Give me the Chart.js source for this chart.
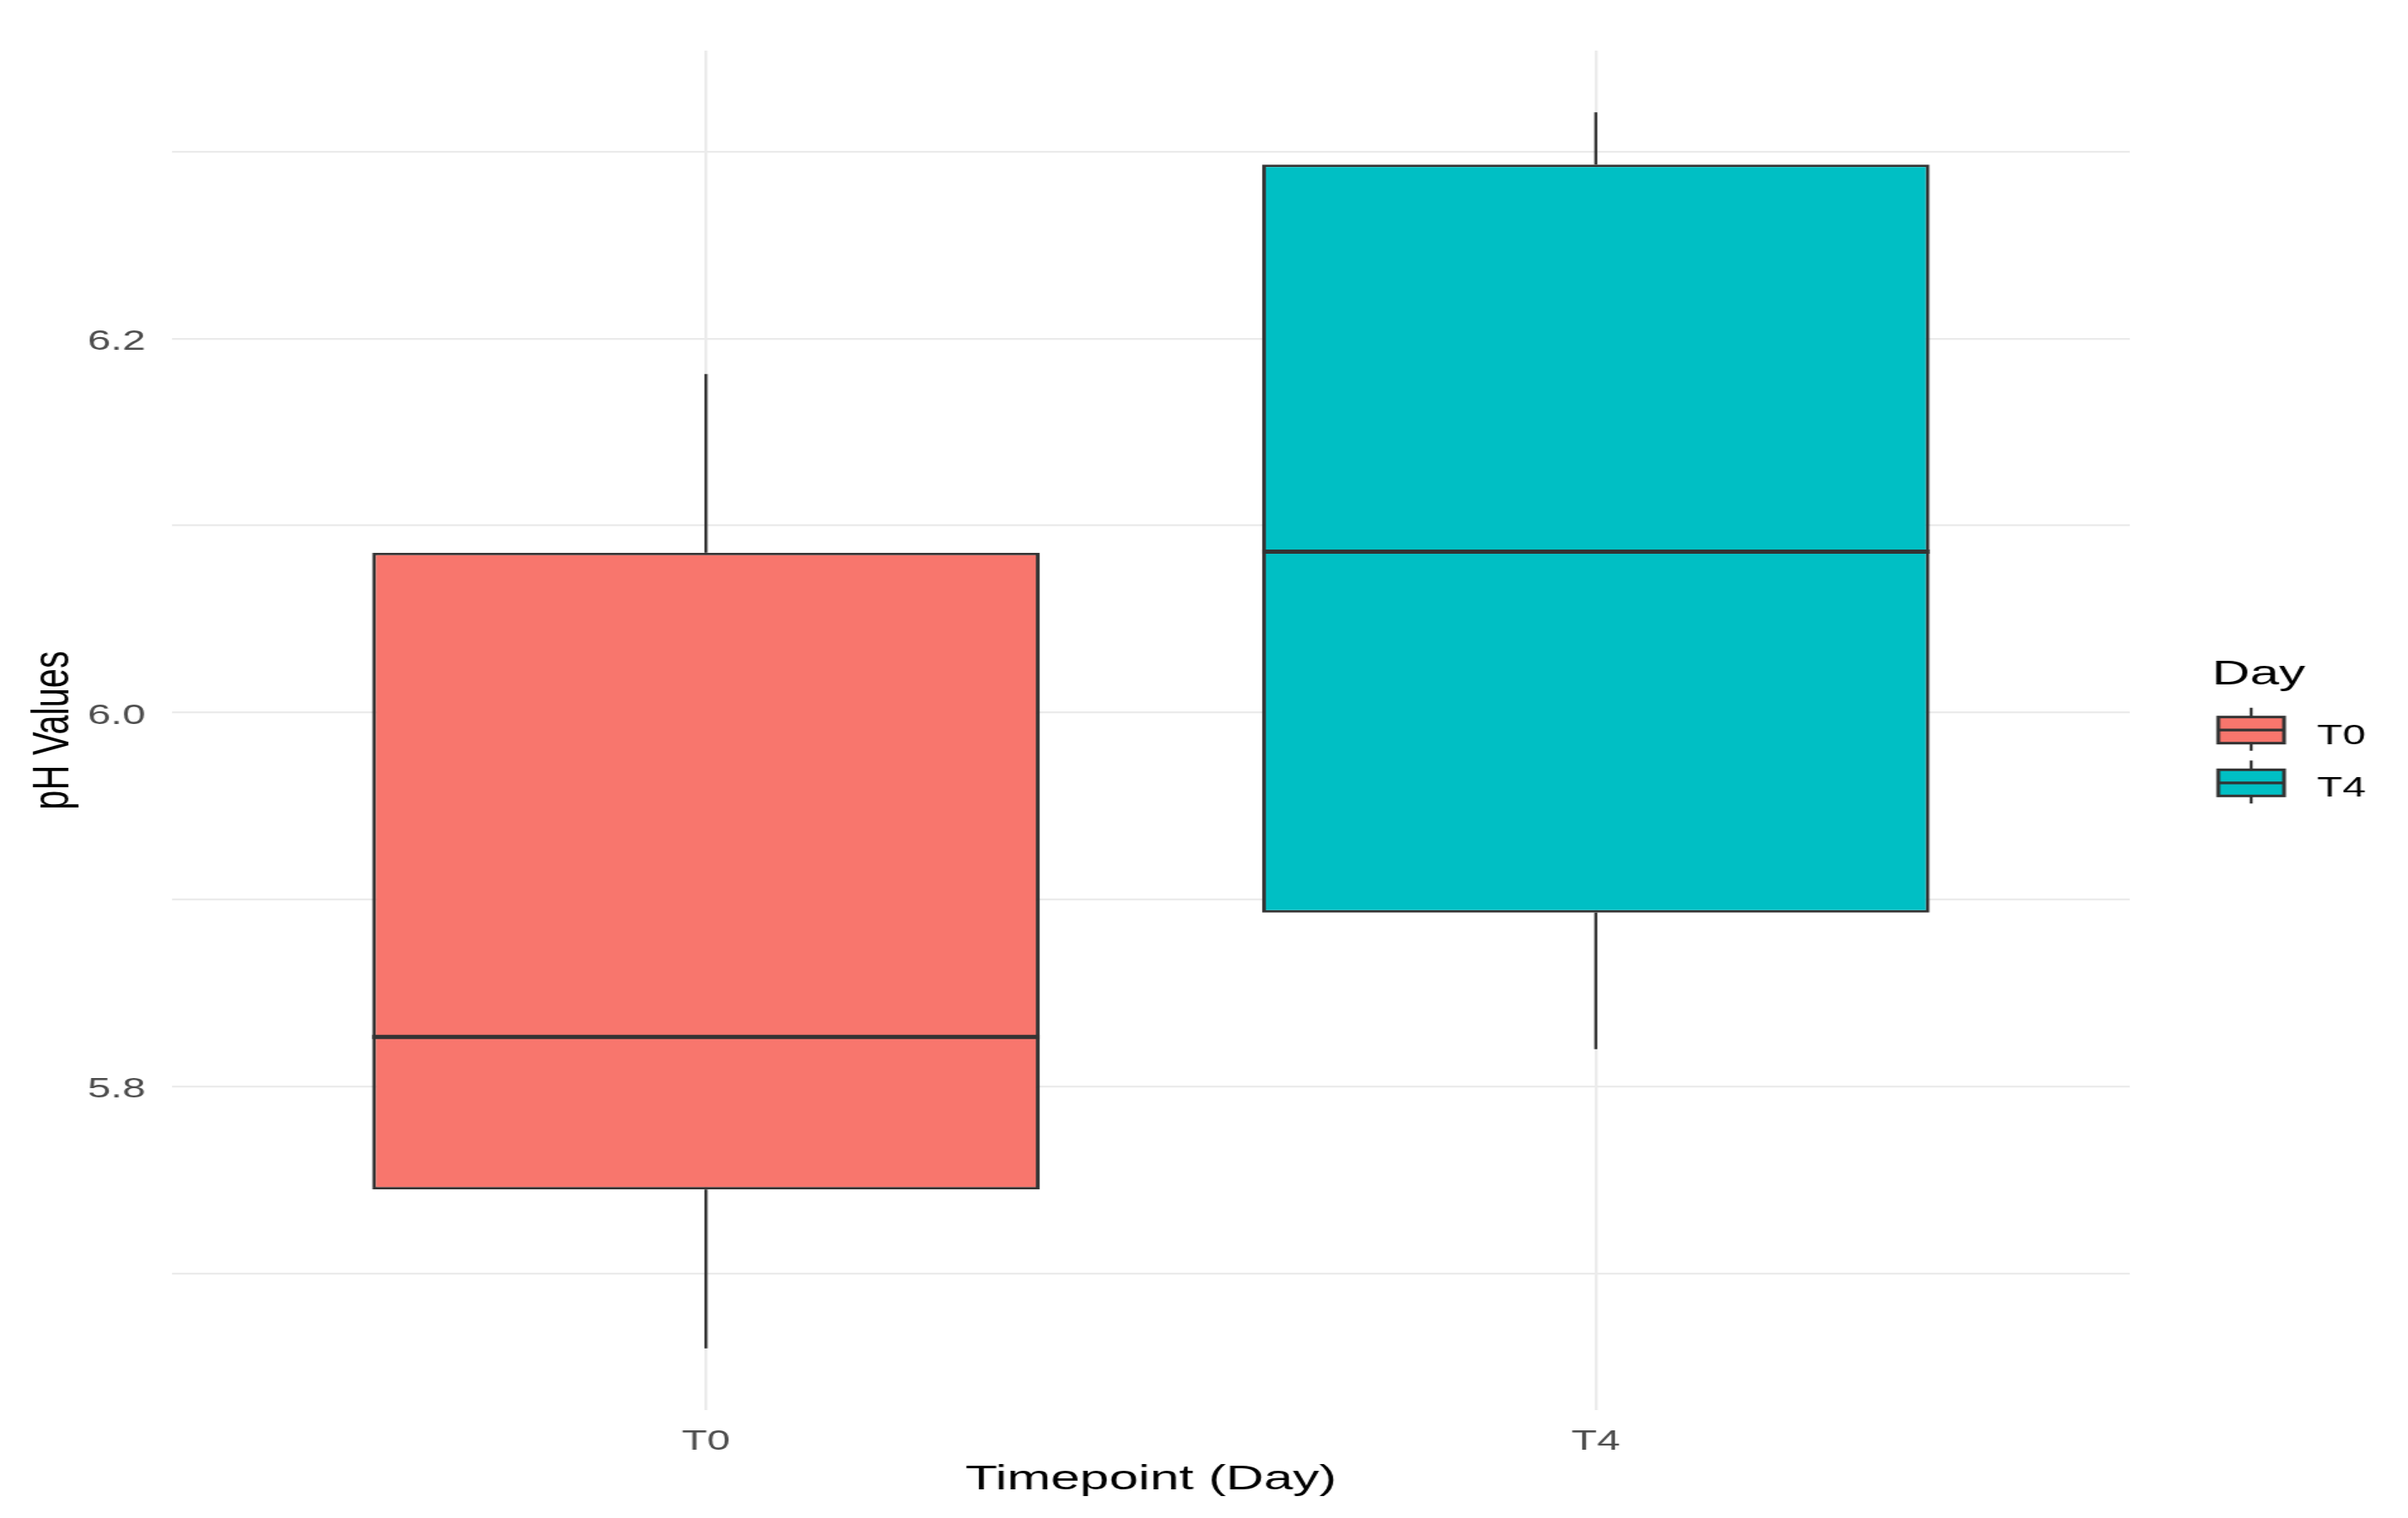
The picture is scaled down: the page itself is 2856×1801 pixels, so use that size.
<!DOCTYPE html>
<html>
<head>
<meta charset="utf-8">
<title>pH Values by Timepoint</title>
<script src="https://cdn.jsdelivr.net/npm/chart.js@4.4.1/dist/chart.umd.min.js"></script>
<style>
    html, body { margin: 0; padding: 0; background: #ffffff; overflow: hidden; }
    /* the picture is stretched 1.5x sideways, so draw it narrow and stretch it */
    #wrap { width: 1904px; height: 1801px; transform: scaleX(1.5); transform-origin: 0 0; }
</style>
</head>
<body>
<div id="wrap"><canvas id="myChart" width="1904" height="1801"></canvas></div>
<script>
const categories = ['T0', 'T4'];
const whiskerLow = [5.660, 5.820];
const q1Values = [5.745, 5.893];
const medianValues = [5.8265, 6.086];
const q3Values = [6.0855, 6.293];
const whiskerHigh = [6.181, 6.321];
const boxColors = ['#F8766D', '#00BFC4'];
const yTicks = [5.7, 5.8, 5.9, 6.0, 6.1, 6.2, 6.3];
const yTickLabels = ['', '5.8', '', '6.0', '', '6.2', ''];

const FONT = '"Liberation Sans", Arial, sans-serif';
const LINE = '#333333';
Chart.defaults.font.family = FONT;

// whiskers behind the boxes, medians on top
const boxplotParts = {
    id: 'boxplotParts',
    beforeDatasetsDraw(chart) {
        const { ctx, scales: { x, y } } = chart;
        ctx.save();
        ctx.strokeStyle = LINE;
        ctx.lineWidth = 2.4;
        categories.forEach((c, i) => {
            const px = x.getPixelForValue(i);
            ctx.beginPath();
            ctx.moveTo(px, y.getPixelForValue(whiskerHigh[i]));
            ctx.lineTo(px, y.getPixelForValue(q3Values[i]));
            ctx.moveTo(px, y.getPixelForValue(q1Values[i]));
            ctx.lineTo(px, y.getPixelForValue(whiskerLow[i]));
            ctx.stroke();
        });
        ctx.restore();
    },
    afterDatasetsDraw(chart) {
        const { ctx, scales: { y } } = chart;
        const meta = chart.getDatasetMeta(0);
        ctx.save();
        ctx.strokeStyle = LINE;
        ctx.lineWidth = 5;
        meta.data.forEach((bar, i) => {
            const py = y.getPixelForValue(medianValues[i]);
            ctx.beginPath();
            ctx.moveTo(bar.x - bar.width / 2, py);
            ctx.lineTo(bar.x + bar.width / 2, py);
            ctx.stroke();
        });
        ctx.restore();
    }
};

// ggplot style legend with little boxplot keys
const boxLegend = {
    id: 'boxLegend',
    afterDraw(chart) {
        const ctx = chart.ctx;
        ctx.save();
        ctx.fillStyle = '#000000';
        ctx.textBaseline = 'alphabetic';
        ctx.textAlign = 'left';
        ctx.font = '41.5px ' + FONT;
        ctx.fillText('Day', 1749, 811.5);

        const keyTops = [850.7, 913.3];
        categories.forEach((c, i) => {
            const top = keyTops[i];
            const left = 1754, w = 52, h = 31;
            const cx = left + w / 2;
            ctx.strokeStyle = LINE;
            ctx.lineWidth = 2.4;
            ctx.beginPath();
            ctx.moveTo(cx, top - 11);
            ctx.lineTo(cx, top + h + 9);
            ctx.stroke();
            ctx.fillStyle = boxColors[i];
            ctx.fillRect(left, top, w, h);
            ctx.lineWidth = 3;
            ctx.strokeRect(left, top, w, h);
            ctx.lineWidth = 3.2;
            ctx.beginPath();
            ctx.moveTo(left, top + h / 2);
            ctx.lineTo(left + w, top + h / 2);
            ctx.stroke();
            ctx.fillStyle = '#000000';
            ctx.font = '33px ' + FONT;
            ctx.fillText(c, 1832, top + 32);
        });
        ctx.restore();
    }
};

const ctx = document.getElementById('myChart').getContext('2d');
const myChart = new Chart(ctx, {
    type: 'bar',
    data: {
        datasets: [{
            label: 'Day',
            data: categories.map((c, i) => ({ x: i, y: [q1Values[i], q3Values[i]] })),
            backgroundColor: boxColors,
            borderColor: LINE,
            borderWidth: 3,
            borderSkipped: false,
            barPercentage: 0.75,
            categoryPercentage: 1
        }]
    },
    options: {
        responsive: false,
        animation: false,
        events: [],
        layout: { padding: { top: 60, right: 220, bottom: 0, left: 0 } },
        plugins: {
            legend: { display: false },
            tooltip: { enabled: false }
        },
        scales: {
            x: {
                type: 'linear',
                min: -0.6,
                max: 1.6,
                offset: false,
                afterBuildTicks: scale => { scale.ticks = categories.map((c, i) => ({ value: i })); },
                afterFit: scale => { scale.height = 128; },
                ticks: {
                    callback: (value, index) => categories[index],
                    font: { size: 33 },
                    color: '#4D4D4D',
                    padding: 18,
                    maxRotation: 0,
                    autoSkip: false
                },
                grid: { color: '#EBEBEB', lineWidth: 2.3, drawTicks: false, offset: false },
                border: { display: false },
                title: {
                    display: true,
                    text: 'Timepoint (Day)',
                    font: { size: 41.5 },
                    color: '#000000',
                    padding: { top: 0, bottom: 21 }
                }
            },
            y: {
                type: 'linear',
                min: 5.627,
                max: 6.354,
                beginAtZero: false,
                afterBuildTicks: scale => { scale.ticks = yTicks.map(v => ({ value: v })); },
                afterFit: scale => { scale.width = 136; },
                ticks: {
                    callback: (value, index) => yTickLabels[index],
                    font: { size: 33 },
                    color: '#4D4D4D',
                    padding: 21,
                    labelOffset: 4
                },
                grid: { color: '#EBEBEB', lineWidth: 2.3, drawTicks: false },
                border: { display: false },
                title: {
                    display: true,
                    text: 'pH Values',
                    font: { size: 41.5 },
                    color: '#000000',
                    padding: { top: 18, bottom: 0 }
                }
            }
        }
    },
    plugins: [boxplotParts, boxLegend]
});
</script>
</body>
</html>
